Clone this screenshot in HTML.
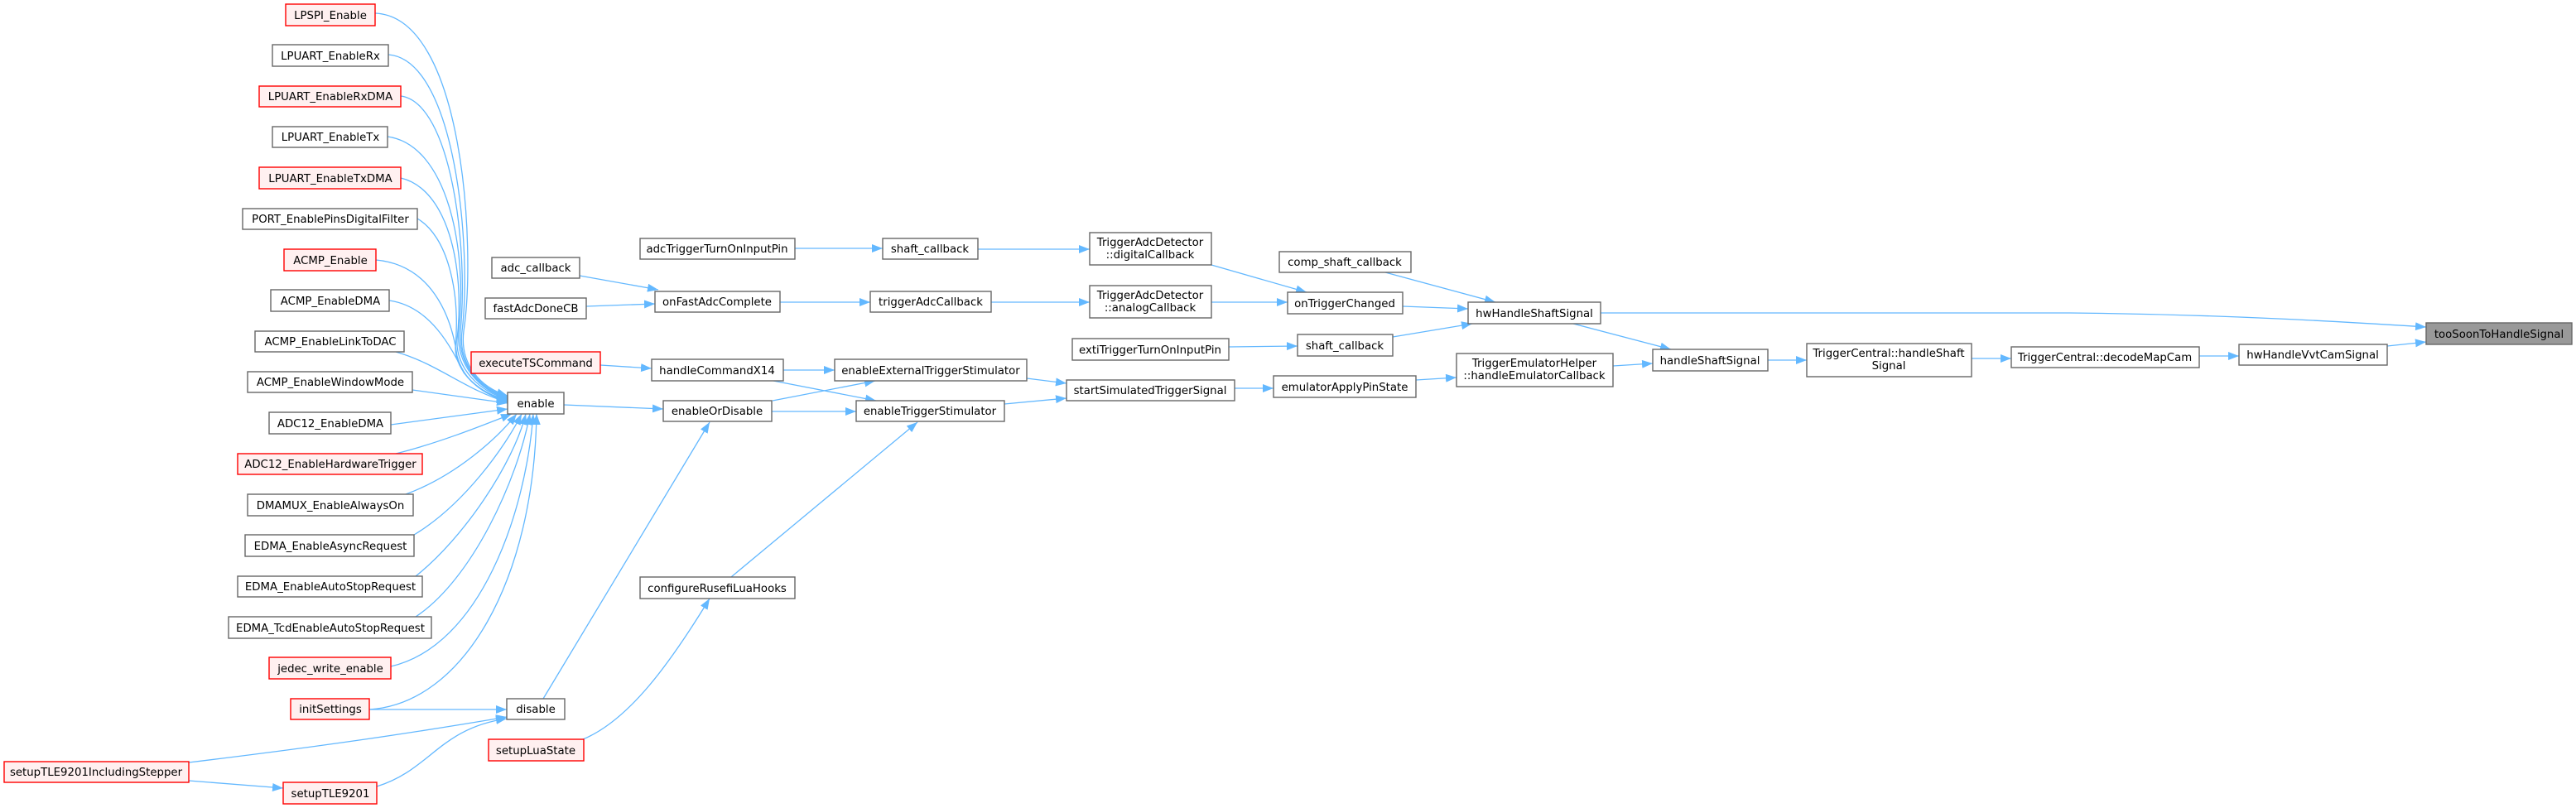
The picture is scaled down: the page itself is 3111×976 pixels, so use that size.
<!DOCTYPE html>
<html><head><meta charset="utf-8"><style>
html,body{margin:0;padding:0;background:#fff;}
svg{display:block;}
text{font-family:"DejaVu Sans","Liberation Sans",sans-serif;font-size:13.3px;fill:#000;text-anchor:middle;}
.n{fill:#fff;stroke:#666;stroke-width:1.4;}
.r{fill:#fff0f0;stroke:#ff0000;stroke-width:1.4;}
.root{fill:#999;stroke:#666;stroke-width:1.4;}
.e{fill:none;stroke:#63b8ff;stroke-width:1.3;}
</style></head><body>
<svg width="3111" height="976" viewBox="0 0 3111 976" xmlns="http://www.w3.org/2000/svg">
<defs><marker id="a" markerUnits="userSpaceOnUse" markerWidth="14" markerHeight="11" refX="13" refY="5" orient="auto"><path d="M0,0 L13,5 L0,10 z" fill="#63b8ff"/></marker></defs>
<g marker-end="url(#a)">
<!-- to enable, top rows -->
<path class="e" d="M453,16 C560,20 575,300 560,400 C555,440 580,468 613,478"/>
<path class="e" d="M469,66 C550,72 570,300 558,400 C553,440 580,470 613,479"/>
<path class="e" d="M484,116 C545,124 566,300 556,400 C552,440 580,472 613,480"/>
<path class="e" d="M468,165 C540,175 565,300 554,400 C550,440 580,473 613,481"/>
<path class="e" d="M484,215 C540,228 562,320 552,410 C550,445 580,474 613,482"/>
<path class="e" d="M504,264 C540,285 556,350 550,420 C550,450 580,476 613,483"/>
<path class="e" d="M454,314 C520,320 545,380 552,430 C560,460 585,477 613,484"/>
<path class="e" d="M470,363 C520,370 545,420 560,450 C575,470 595,480 613,485"/>
<path class="e" d="M478,425 C530,440 560,470 613,486"/>
<path class="e" d="M498,471 L613,487"/>
<!-- bottom rows -->
<path class="e" d="M472,513 L613,494"/>
<path class="e" d="M478,548 C530,535 580,515 618,500"/>
<path class="e" d="M490,597 C550,575 600,530 624,500"/>
<path class="e" d="M500,646 C560,610 610,540 630,500"/>
<path class="e" d="M502,696 C560,650 620,560 635,500"/>
<path class="e" d="M502,745 C570,700 625,580 640,500"/>
<path class="e" d="M472,805 C580,780 635,620 644,500"/>
<path class="e" d="M446,857 C560,850 645,700 648,500"/>
<!-- disable -->
<path class="e" d="M446,857 L612,857"/>
<path class="e" d="M228,921 C400,900 500,885 612,866"/>
<path class="e" d="M228,943 L342,952"/>
<path class="e" d="M455,950 C520,930 530,880 612,868"/>
<path class="e" d="M656,844 L857,510"/>
<path class="e" d="M681,489 L801,494"/>
<path class="e" d="M725,441 L787,445"/>
<path class="e" d="M946,447 L1008,447"/>
<path class="e" d="M934,460 L1058,484"/>
<path class="e" d="M933,484 L1057,460"/>
<path class="e" d="M932,497 L1034,497"/>
<path class="e" d="M883,697 L1108,510"/>
<path class="e" d="M704,893 C760,870 810,800 857,723"/>
<path class="e" d="M1240,457 L1288,463"/>
<path class="e" d="M1213,488 L1288,481"/>
<path class="e" d="M700,333 L795,350"/>
<path class="e" d="M708,370 L791,367"/>
<path class="e" d="M942,365 L1051,365"/>
<path class="e" d="M960,300 L1066,300"/>
<path class="e" d="M1181,301 L1316,301"/>
<path class="e" d="M1197,365 L1316,365"/>
<path class="e" d="M1463,320 L1578,353"/>
<path class="e" d="M1463,365 L1555,365"/>
<path class="e" d="M1694,370 L1773,373"/>
<path class="e" d="M1673,329 L1806,365"/>
<path class="e" d="M1682,407 L1778,391"/>
<path class="e" d="M1484,419 L1567,418"/>
<path class="e" d="M1491,469 L1538,469"/>
<path class="e" d="M1710,459 L1759,456"/>
<path class="e" d="M1900,391 L2018,422"/>
<path class="e" d="M1948,442 L1996,439"/>
<path class="e" d="M2135,435 L2182,435"/>
<path class="e" d="M2381,433 L2429,433"/>
<path class="e" d="M2656,430 L2704,430"/>
<path class="e" d="M2883,418 L2930,413"/>
<path class="e" d="M1933,378 L2500,378 C2700,380 2850,390 2930,395"/>
</g>
<!-- nodes -->
<rect class="r" x="345" y="5" width="108" height="26"/><text x="399" y="23">LPSPI_Enable</text>
<rect class="n" x="329" y="54" width="140" height="26"/><text x="399" y="72">LPUART_EnableRx</text>
<rect class="r" x="313" y="104" width="171" height="25"/><text x="399" y="121">LPUART_EnableRxDMA</text>
<rect class="n" x="329" y="153" width="139" height="25"/><text x="399" y="170">LPUART_EnableTx</text>
<rect class="r" x="313" y="202" width="171" height="26"/><text x="399" y="220">LPUART_EnableTxDMA</text>
<rect class="n" x="293" y="252" width="211" height="25"/><text x="399" y="269">PORT_EnablePinsDigitalFilter</text>
<rect class="r" x="343" y="301" width="111" height="26"/><text x="399" y="319">ACMP_Enable</text>
<rect class="n" x="327" y="350" width="143" height="26"/><text x="399" y="368">ACMP_EnableDMA</text>
<rect class="n" x="308" y="400" width="180" height="25"/><text x="399" y="417">ACMP_EnableLinkToDAC</text>
<rect class="n" x="299" y="449" width="199" height="25"/><text x="399" y="466">ACMP_EnableWindowMode</text>
<rect class="n" x="325" y="498" width="147" height="26"/><text x="399" y="516">ADC12_EnableDMA</text>
<rect class="r" x="287" y="548" width="223" height="25"/><text x="399" y="565">ADC12_EnableHardwareTrigger</text>
<rect class="n" x="299" y="597" width="200" height="26"/><text x="399" y="615">DMAMUX_EnableAlwaysOn</text>
<rect class="n" x="296" y="646" width="204" height="26"/><text x="399" y="664">EDMA_EnableAsyncRequest</text>
<rect class="n" x="287" y="696" width="223" height="25"/><text x="399" y="713">EDMA_EnableAutoStopRequest</text>
<rect class="n" x="276" y="745" width="245" height="26"/><text x="399" y="763">EDMA_TcdEnableAutoStopRequest</text>
<rect class="r" x="325" y="794" width="147" height="26"/><text x="399" y="812">jedec_write_enable</text>
<rect class="r" x="351" y="844" width="95" height="25"/><text x="399" y="861">initSettings</text>
<rect class="r" x="5" y="920" width="223" height="25"/><text x="116" y="937">setupTLE9201IncludingStepper</text>
<rect class="r" x="342" y="945" width="113" height="26"/><text x="399" y="963">setupTLE9201</text>

<rect class="n" x="594" y="311" width="106" height="25"/><text x="647" y="328">adc_callback</text>
<rect class="n" x="586" y="360" width="122" height="25"/><text x="647" y="377">fastAdcDoneCB</text>
<rect class="r" x="569" y="425" width="156" height="26"/><text x="647" y="443">executeTSCommand</text>
<rect class="n" x="613" y="474" width="68" height="26"/><text x="647" y="492">enable</text>
<rect class="n" x="612" y="844" width="70" height="25"/><text x="647" y="861">disable</text>
<rect class="r" x="590" y="893" width="115" height="26"/><text x="647" y="911">setupLuaState</text>

<rect class="n" x="773" y="288" width="187" height="25"/><text x="866" y="305">adcTriggerTurnOnInputPin</text>
<rect class="n" x="791" y="352" width="151" height="25"/><text x="866" y="369">onFastAdcComplete</text>
<rect class="n" x="787" y="434" width="159" height="26"/><text x="866" y="452">handleCommandX14</text>
<rect class="n" x="801" y="484" width="131" height="25"/><text x="866" y="501">enableOrDisable</text>
<rect class="n" x="773" y="697" width="187" height="26"/><text x="866" y="715">configureRusefiLuaHooks</text>

<rect class="n" x="1066" y="288" width="115" height="25"/><text x="1123" y="305">shaft_callback</text>
<rect class="n" x="1051" y="352" width="146" height="25"/><text x="1124" y="369">triggerAdcCallback</text>
<rect class="n" x="1008" y="434" width="232" height="26"/><text x="1124" y="452">enableExternalTriggerStimulator</text>
<rect class="n" x="1034" y="484" width="179" height="25"/><text x="1123" y="501">enableTriggerStimulator</text>

<rect class="n" x="1316" y="281" width="147" height="39"/><text x="1389" y="297">TriggerAdcDetector</text><text x="1389" y="312">::digitalCallback</text>
<rect class="n" x="1316" y="345" width="147" height="39"/><text x="1389" y="361">TriggerAdcDetector</text><text x="1389" y="376">::analogCallback</text>
<rect class="n" x="1295" y="409" width="189" height="26"/><text x="1389" y="427">extiTriggerTurnOnInputPin</text>
<rect class="n" x="1288" y="459" width="203" height="25"/><text x="1389" y="476">startSimulatedTriggerSignal</text>

<rect class="n" x="1545" y="304" width="159" height="25"/><text x="1624" y="321">comp_shaft_callback</text>
<rect class="n" x="1555" y="353" width="139" height="26"/><text x="1624" y="371">onTriggerChanged</text>
<rect class="n" x="1567" y="404" width="115" height="26"/><text x="1624" y="422">shaft_callback</text>
<rect class="n" x="1538" y="454" width="172" height="26"/><text x="1624" y="472">emulatorApplyPinState</text>

<rect class="n" x="1773" y="365" width="160" height="26"/><text x="1853" y="383">hwHandleShaftSignal</text>
<rect class="n" x="1759" y="427" width="189" height="40"/><text x="1853" y="443">TriggerEmulatorHelper</text><text x="1853" y="458">::handleEmulatorCallback</text>

<rect class="n" x="1996" y="422" width="139" height="26"/><text x="2065" y="440">handleShaftSignal</text>
<rect class="n" x="2182" y="415" width="199" height="40"/><text x="2281" y="431">TriggerCentral::handleShaft</text><text x="2281" y="446">Signal</text>
<rect class="n" x="2429" y="419" width="227" height="25"/><text x="2542" y="436">TriggerCentral::decodeMapCam</text>
<rect class="n" x="2704" y="416" width="179" height="25"/><text x="2793" y="433">hwHandleVvtCamSignal</text>
<rect class="root" x="2930" y="390" width="176" height="26"/><text x="3018" y="408">tooSoonToHandleSignal</text>
</svg>
</body></html>
